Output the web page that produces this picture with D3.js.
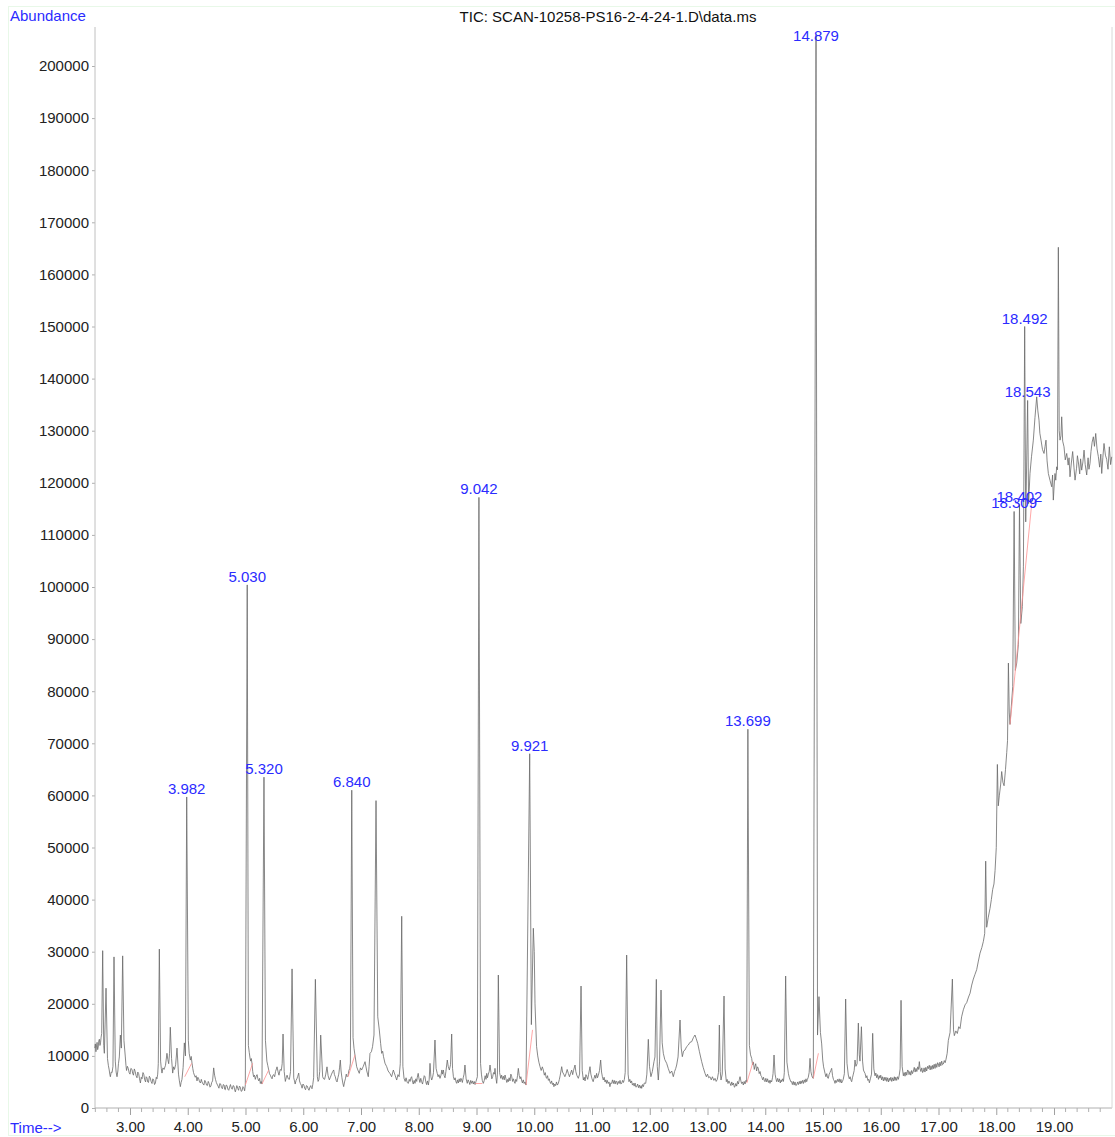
<!DOCTYPE html>
<html>
<head>
<meta charset="utf-8">
<script src="https://cdn.jsdelivr.net/npm/d3@7"></script>
<style>
    body { margin: 0; background: #ffffff; }
    svg { display: block; font-family: "Liberation Sans", Arial, sans-serif; }
</style>
</head>
<body>
<div id="chart-container"></div>
<script>
// chart text
const chartTitle = "TIC: SCAN-10258-PS16-2-4-24-1.D\\data.ms";
const yLabel = "Abundance";
const xLabel = "Time-->";

// tick values
const xTicks = [3, 4, 5, 6, 7, 8, 9, 10, 11, 12, 13, 14, 15, 16, 17, 18, 19];
const yTicks = [0, 10000, 20000, 30000, 40000, 50000, 60000, 70000, 80000, 90000, 100000,
    110000, 120000, 130000, 140000, 150000, 160000, 170000, 180000, 190000, 200000];

// TIC trace: [time (min), abundance]
const trace = [
    [2.39, 11500], [2.40, 12300], [2.41, 10800], [2.42, 11900], [2.43, 12600], [2.44, 11200], [2.45, 11700], [2.46, 12900],
    [2.47, 13200], [2.48, 12000], [2.49, 12500], [2.50, 13600], [2.51, 14300], [2.527, 30200], [2.545, 12000], [2.556, 10500],
    [2.585, 23000], [2.61, 9500], [2.625, 8200], [2.64, 7300], [2.65, 6500], [2.66, 6000], [2.675, 6900], [2.69, 6800],
    [2.705, 8000], [2.723, 29000], [2.745, 9000], [2.76, 6900], [2.775, 6000], [2.79, 7100], [2.80, 8500], [2.815, 9800],
    [2.833, 14000], [2.85, 11500], [2.873, 29200], [2.895, 13000], [2.919, 9800], [2.93, 8200], [2.94, 7200], [2.955, 8000],
    [2.97, 7600], [2.985, 6800], [3.00, 6500], [3.015, 7600], [3.035, 7400], [3.045, 6700], [3.06, 6300], [3.075, 7500],
    [3.09, 7000], [3.105, 6200], [3.121, 5800], [3.135, 6900], [3.15, 6600], [3.165, 5600], [3.18, 4800], [3.195, 5900],
    [3.208, 5600], [3.225, 6800], [3.24, 6400], [3.255, 5400], [3.27, 5000], [3.28, 6000], [3.294, 5800], [3.307, 5000],
    [3.32, 4900], [3.335, 6100], [3.35, 5800], [3.365, 5100], [3.381, 4700], [3.395, 5600], [3.41, 5400], [3.425, 4500],
    [3.44, 4800], [3.455, 5900], [3.467, 5600], [3.48, 6500], [3.49, 8500], [3.508, 30500], [3.53, 9000], [3.542, 7600],
    [3.554, 6700], [3.57, 7700], [3.59, 7400], [3.615, 8200], [3.64, 10500], [3.655, 9300], [3.67, 8500], [3.685, 10500],
    [3.698, 15500], [3.72, 9500], [3.739, 6700], [3.755, 7900], [3.77, 7400], [3.79, 8300], [3.814, 11500], [3.84, 6500],
    [3.855, 5200], [3.872, 4100], [3.885, 4900], [3.90, 5500], [3.92, 7800], [3.941, 12500], [3.96, 10000], [3.982, 59700],
    [4.01, 13000], [4.025, 10500], [4.045, 9200], [4.06, 9900], [4.074, 8600], [4.087, 7600], [4.10, 6800], [4.115, 6300],
    [4.13, 5900], [4.145, 6200], [4.16, 5200], [4.175, 5900], [4.19, 5600], [4.205, 5000], [4.22, 4800], [4.235, 5500],
    [4.247, 5000], [4.265, 4600], [4.28, 4400], [4.295, 5300], [4.31, 5000], [4.325, 4400], [4.34, 4300], [4.355, 5100],
    [4.37, 4700], [4.385, 4000], [4.40, 4200], [4.415, 4900], [4.43, 5200], [4.449, 7700], [4.465, 6300], [4.48, 5500],
    [4.495, 4900], [4.507, 4600], [4.525, 4200], [4.54, 3800], [4.555, 4700], [4.57, 4600], [4.585, 3900], [4.60, 3700],
    [4.615, 4500], [4.63, 4400], [4.64, 3600], [4.65, 3500], [4.665, 4400], [4.68, 4300], [4.695, 3600], [4.71, 3400],
    [4.725, 4000], [4.74, 4500], [4.755, 3800], [4.77, 3600], [4.785, 4300], [4.80, 4200], [4.812, 3500], [4.824, 3100],
    [4.838, 3700], [4.85, 4300], [4.865, 3800], [4.88, 3400], [4.895, 4200], [4.91, 4000], [4.925, 3200], [4.94, 3300],
    [4.955, 4100], [4.97, 3900], [4.985, 3300], [4.997, 4400], [5.030, 100400], [5.05, 12000], [5.066, 10600], [5.078, 9600],
    [5.09, 9000], [5.10, 9500], [5.112, 8600], [5.125, 7000], [5.14, 6000], [5.155, 6300], [5.17, 5500], [5.185, 6100],
    [5.20, 6400], [5.215, 5600], [5.23, 5200], [5.245, 5700], [5.257, 4700], [5.27, 5100], [5.285, 4600], [5.320, 63500],
    [5.345, 13000], [5.37, 9000], [5.385, 8200], [5.402, 7300], [5.415, 6600], [5.43, 6300], [5.445, 5900], [5.46, 5600],
    [5.475, 6300], [5.488, 6400], [5.505, 6000], [5.52, 7000], [5.535, 7500], [5.546, 7900], [5.565, 6900], [5.58, 6300],
    [5.60, 7400], [5.62, 7200], [5.635, 8500], [5.65, 14200], [5.67, 7000], [5.69, 5100], [5.705, 5800], [5.72, 6300],
    [5.74, 5600], [5.76, 5500], [5.78, 7000], [5.806, 26700], [5.835, 5800], [5.848, 5200], [5.86, 4600], [5.875, 5300],
    [5.89, 5600], [5.905, 6100], [5.921, 6700], [5.935, 5200], [5.95, 4700], [5.965, 4400], [5.98, 3800], [5.995, 4600],
    [6.01, 4400], [6.025, 3800], [6.04, 3500], [6.055, 4300], [6.07, 4200], [6.085, 3700], [6.10, 3400], [6.115, 4000],
    [6.13, 4300], [6.14, 3900], [6.152, 3700], [6.165, 4500], [6.18, 5800], [6.21, 24700], [6.244, 6000], [6.257, 5100],
    [6.27, 5400], [6.285, 7000], [6.302, 14000], [6.336, 6000], [6.352, 5600], [6.37, 5500], [6.39, 6500], [6.411, 7900],
    [6.43, 6200], [6.452, 5400], [6.47, 5900], [6.49, 6500], [6.51, 7000], [6.527, 7300], [6.54, 6400], [6.555, 6000],
    [6.57, 5300], [6.585, 5000], [6.60, 5800], [6.615, 6500], [6.628, 7700], [6.642, 9200], [6.655, 7100], [6.67, 5800],
    [6.685, 4800], [6.70, 4100], [6.715, 5000], [6.73, 5600], [6.745, 6500], [6.758, 6000], [6.775, 6200], [6.79, 7200],
    [6.805, 7600], [6.816, 8600], [6.840, 61000], [6.862, 13500], [6.879, 11450], [6.90, 9800], [6.925, 7930], [6.945, 7300],
    [6.97, 6650], [6.99, 7700], [7.01, 7290], [7.04, 8000], [7.07, 8890], [7.10, 7100], [7.126, 6010], [7.14, 8000],
    [7.156, 10490], [7.18, 10800], [7.20, 11770], [7.225, 14010], [7.26, 59000], [7.29, 17500], [7.317, 14970], [7.34, 12400],
    [7.358, 10490], [7.375, 10900], [7.39, 9850], [7.415, 8600], [7.445, 7930], [7.47, 7100], [7.50, 6650], [7.53, 6000],
    [7.56, 7290], [7.59, 6300], [7.618, 5370], [7.64, 6400], [7.66, 6010], [7.68, 8500], [7.705, 36800], [7.725, 8000],
    [7.745, 5690], [7.765, 5100], [7.78, 5800], [7.80, 4900], [7.82, 4730], [7.835, 5500], [7.85, 5100], [7.865, 5800],
    [7.877, 6010], [7.89, 5200], [7.905, 4600], [7.92, 5300], [7.935, 4730], [7.95, 5600], [7.965, 5100], [7.975, 5900],
    [7.99, 6650], [8.005, 5600], [8.02, 4900], [8.035, 5700], [8.05, 5050], [8.065, 4600], [8.08, 5400], [8.095, 6200],
    [8.108, 6010], [8.12, 5100], [8.135, 4500], [8.15, 5200], [8.166, 4410], [8.18, 5400], [8.195, 8570], [8.21, 6000],
    [8.224, 5370], [8.24, 5900], [8.255, 6800], [8.281, 13050], [8.30, 7600], [8.32, 6650], [8.335, 6000], [8.35, 6400],
    [8.368, 5690], [8.385, 6300], [8.40, 7300], [8.41, 6500], [8.426, 7290], [8.44, 6200], [8.455, 5800], [8.47, 7000],
    [8.494, 9210], [8.51, 8000], [8.53, 7290], [8.55, 8300], [8.57, 14200], [8.585, 7600], [8.60, 6010], [8.615, 5400],
    [8.63, 5800], [8.645, 5000], [8.657, 4730], [8.67, 5400], [8.685, 4800], [8.70, 5600], [8.715, 5000], [8.73, 5700],
    [8.743, 5370], [8.755, 4900], [8.77, 5800], [8.785, 6500], [8.80, 8250], [8.82, 5600], [8.84, 4730], [8.855, 5400],
    [8.87, 5000], [8.885, 4500], [8.90, 5300], [8.916, 4730], [8.93, 5200], [8.945, 4600], [8.96, 5100], [8.975, 4500],
    [8.99, 5050], [9.015, 6000], [9.042, 117200], [9.07, 8570], [9.085, 6500], [9.10, 5300], [9.118, 4730], [9.135, 5300],
    [9.15, 6200], [9.165, 5500], [9.177, 6650], [9.19, 5800], [9.205, 6500], [9.22, 7000], [9.234, 8250], [9.25, 6800],
    [9.265, 5600], [9.28, 6010], [9.295, 6800], [9.31, 6500], [9.32, 7610], [9.335, 5900], [9.35, 4730], [9.362, 6500],
    [9.378, 25520], [9.40, 6800], [9.42, 5690], [9.435, 6300], [9.45, 5500], [9.465, 6100], [9.48, 5400], [9.494, 6330],
    [9.51, 5600], [9.525, 4900], [9.54, 5500], [9.55, 5050], [9.565, 5800], [9.58, 5200], [9.595, 6500], [9.61, 6010],
    [9.625, 5100], [9.64, 5600], [9.655, 5000], [9.667, 4730], [9.68, 5500], [9.695, 5100], [9.71, 6200], [9.724, 7610],
    [9.74, 6200], [9.755, 5600], [9.768, 6000], [9.78, 5370], [9.795, 4800], [9.81, 5400], [9.825, 4700], [9.84, 5000],
    [9.857, 4410], [9.921, 68000], [9.95, 16000], [9.984, 34500], [10.00, 30000], [10.013, 20000], [10.04, 11800], [10.06, 10000],
    [10.08, 8800], [10.10, 7930], [10.12, 7200], [10.14, 7900], [10.157, 7290], [10.175, 6300], [10.19, 6800], [10.205, 5900],
    [10.215, 5690], [10.23, 6200], [10.245, 5300], [10.26, 5600], [10.27, 5050], [10.285, 4700], [10.30, 5200], [10.315, 4500],
    [10.33, 4800], [10.34, 4090], [10.355, 4600], [10.37, 4300], [10.385, 5000], [10.40, 4400], [10.417, 4730], [10.435, 5500],
    [10.45, 6300], [10.475, 7930], [10.49, 6900], [10.51, 6500], [10.53, 6010], [10.55, 6600], [10.57, 7400], [10.59, 6650],
    [10.61, 6000], [10.63, 6700], [10.648, 7290], [10.665, 6400], [10.68, 7200], [10.706, 8250], [10.72, 7000], [10.74, 6200],
    [10.763, 5690], [10.785, 6500], [10.81, 23410], [10.83, 7200], [10.85, 5370], [10.865, 5900], [10.88, 5200], [10.895, 6400],
    [10.91, 6010], [10.925, 5500], [10.94, 6400], [10.965, 7930], [10.98, 6500], [11.00, 5600], [11.02, 5050], [11.035, 5700],
    [11.05, 6300], [11.065, 5700], [11.08, 6650], [11.095, 5800], [11.11, 6300], [11.13, 7200], [11.15, 9210], [11.165, 6900],
    [11.18, 6000], [11.195, 5370], [11.21, 5900], [11.225, 5000], [11.24, 5400], [11.25, 4730], [11.265, 5300], [11.28, 4700],
    [11.295, 5000], [11.31, 4090], [11.325, 4800], [11.34, 4730], [11.355, 5400], [11.37, 4700], [11.385, 5300], [11.40, 4600],
    [11.415, 5200], [11.427, 5050], [11.44, 4500], [11.455, 5100], [11.47, 4700], [11.485, 5300], [11.50, 4600], [11.514, 4730],
    [11.53, 5300], [11.545, 4900], [11.56, 5500], [11.575, 6800], [11.60, 29360], [11.625, 6500], [11.64, 5050], [11.655, 5500],
    [11.67, 4800], [11.685, 5200], [11.70, 4400], [11.716, 4730], [11.73, 4200], [11.745, 4800], [11.76, 4000], [11.773, 4090],
    [11.79, 4600], [11.805, 3900], [11.82, 4400], [11.835, 3800], [11.85, 4300], [11.86, 3770], [11.875, 4500], [11.89, 4100],
    [11.905, 4800], [11.93, 4730], [11.95, 6500], [11.975, 13180], [11.995, 8000], [12.02, 6010], [12.045, 7000], [12.073, 8890],
    [12.09, 9800], [12.114, 24690], [12.13, 8000], [12.148, 5370], [12.17, 9000], [12.195, 22640], [12.215, 12500], [12.235, 10490],
    [12.26, 9300], [12.293, 8570], [12.32, 7600], [12.35, 6650], [12.38, 7100], [12.408, 6010], [12.43, 7000], [12.45, 7600],
    [12.466, 8250], [12.49, 9800], [12.524, 16890], [12.545, 11500], [12.564, 9850], [12.585, 10900], [12.61, 11130], [12.64, 11800],
    [12.668, 12090], [12.695, 12600], [12.726, 12730], [12.755, 13500], [12.783, 14010], [12.805, 13300], [12.83, 12410], [12.86, 10800],
    [12.899, 8890], [12.925, 7800], [12.957, 6650], [12.98, 6000], [13.00, 6500], [13.02, 5800], [13.043, 6010], [13.065, 5400],
    [13.085, 6000], [13.11, 5300], [13.13, 5690], [13.15, 5100], [13.17, 5500], [13.19, 6800], [13.205, 15930], [13.22, 7000],
    [13.234, 5370], [13.255, 6500], [13.286, 21490], [13.305, 7500], [13.326, 5050], [13.34, 5500], [13.355, 4700], [13.37, 5200],
    [13.39, 4730], [13.405, 4300], [13.42, 5000], [13.435, 4400], [13.45, 4800], [13.465, 4000], [13.476, 4090], [13.49, 4700],
    [13.505, 4200], [13.52, 5100], [13.535, 4600], [13.55, 5400], [13.563, 6010], [13.578, 5200], [13.59, 4700], [13.605, 5000],
    [13.62, 4410], [13.635, 5100], [13.65, 4600], [13.665, 5300], [13.678, 5050], [13.699, 72700], [13.725, 12000], [13.745, 10200],
    [13.765, 9530], [13.78, 8300], [13.795, 8800], [13.81, 7400], [13.82, 7930], [13.835, 8500], [13.85, 7100], [13.865, 7900],
    [13.88, 7610], [13.895, 6600], [13.91, 7000], [13.925, 6200], [13.938, 6010], [13.955, 5400], [13.97, 5900], [13.985, 5200],
    [13.996, 5050], [14.01, 5700], [14.025, 5000], [14.04, 5600], [14.055, 4900], [14.07, 5300], [14.082, 4730], [14.095, 5300],
    [14.11, 5000], [14.125, 5800], [14.135, 6600], [14.152, 10170], [14.17, 6500], [14.185, 5600], [14.198, 5050], [14.215, 5700],
    [14.23, 5000], [14.245, 5600], [14.26, 4800], [14.275, 5400], [14.284, 5050], [14.30, 5600], [14.315, 5100], [14.33, 6800],
    [14.353, 25330], [14.375, 8800], [14.40, 6650], [14.415, 5900], [14.43, 5400], [14.445, 5000], [14.457, 5050], [14.47, 4500],
    [14.485, 5100], [14.50, 4400], [14.515, 5000], [14.53, 4300], [14.544, 4410], [14.56, 5000], [14.575, 4500], [14.59, 5100],
    [14.605, 4600], [14.618, 5200], [14.63, 4730], [14.645, 5300], [14.66, 4700], [14.675, 5400], [14.69, 4900], [14.705, 5600],
    [14.717, 5050], [14.73, 5500], [14.745, 5900], [14.76, 6800], [14.775, 9530], [14.79, 7000], [14.805, 6200], [14.82, 5800],
    [14.832, 5690], [14.879, 206000], [14.905, 14000], [14.93, 21370], [14.955, 14500], [14.977, 12300], [14.995, 9200], [15.01, 7900],
    [15.035, 6650], [15.05, 6000], [15.065, 6600], [15.078, 5800], [15.092, 5690], [15.105, 6400], [15.12, 6800], [15.135, 7200],
    [15.15, 7610], [15.165, 6200], [15.18, 5500], [15.195, 5200], [15.208, 4730], [15.22, 5300], [15.235, 4900], [15.25, 5500],
    [15.265, 5050], [15.28, 5600], [15.295, 4900], [15.31, 5500], [15.322, 4800], [15.335, 5050], [15.35, 5500], [15.37, 6600],
    [15.392, 20920], [15.415, 8600], [15.438, 6330], [15.455, 5600], [15.47, 6000], [15.485, 5300], [15.496, 5050], [15.51, 5800],
    [15.525, 6500], [15.54, 7200], [15.554, 9210], [15.57, 8000], [15.59, 8500], [15.612, 16300], [15.628, 10200], [15.64, 9000],
    [15.665, 15600], [15.685, 9000], [15.70, 7290], [15.715, 6900], [15.728, 6640], [15.745, 5800], [15.76, 6200], [15.775, 5300],
    [15.79, 5500], [15.803, 4840], [15.82, 5600], [15.84, 6500], [15.86, 14330], [15.88, 7500], [15.90, 6180], [15.915, 6700],
    [15.93, 5800], [15.945, 6400], [15.96, 5500], [15.975, 6200], [15.987, 5740], [16.00, 6300], [16.015, 5400], [16.03, 6000],
    [16.045, 5200], [16.06, 5900], [16.074, 5280], [16.09, 5900], [16.105, 5100], [16.12, 5800], [16.135, 5000], [16.15, 5700],
    [16.16, 5280], [16.175, 5900], [16.19, 5100], [16.205, 5800], [16.22, 5200], [16.235, 6000], [16.247, 5280], [16.26, 5900],
    [16.275, 5300], [16.29, 6000], [16.305, 5500], [16.32, 6300], [16.335, 7500], [16.351, 20670], [16.37, 8000], [16.391, 6180],
    [16.405, 6800], [16.42, 6100], [16.435, 6900], [16.45, 6300], [16.465, 7300], [16.478, 7100], [16.49, 6400], [16.505, 7000],
    [16.52, 6300], [16.535, 7200], [16.55, 6600], [16.565, 7100], [16.58, 7800], [16.595, 6900], [16.61, 7600], [16.625, 7000],
    [16.64, 7900], [16.655, 7400], [16.668, 8900], [16.68, 7600], [16.695, 7000], [16.71, 7700], [16.725, 6800], [16.738, 7100],
    [16.75, 7700], [16.765, 6900], [16.78, 7800], [16.795, 7100], [16.81, 8000], [16.824, 7550], [16.84, 8200], [16.855, 7300],
    [16.87, 8100], [16.885, 7400], [16.90, 8200], [16.911, 7550], [16.925, 8400], [16.94, 7600], [16.955, 8500], [16.97, 7800],
    [16.985, 8700], [16.997, 8450], [17.01, 7900], [17.025, 8800], [17.04, 8100], [17.055, 9000], [17.07, 8300], [17.084, 8450],
    [17.10, 9100], [17.115, 8700], [17.13, 9360], [17.15, 10500], [17.17, 12970], [17.20, 14500], [17.24, 24740], [17.26, 15000],
    [17.274, 13890], [17.30, 14800], [17.326, 14300], [17.35, 15600], [17.373, 15240], [17.40, 17500], [17.43, 18860], [17.46, 19800],
    [17.488, 20220], [17.52, 21300], [17.546, 22030], [17.575, 23600], [17.603, 24740], [17.63, 25600], [17.661, 26560], [17.69, 28200],
    [17.719, 29730], [17.75, 30800], [17.777, 31990], [17.80, 33500], [17.817, 47380], [17.834, 34690], [17.86, 36500], [17.892, 38320],
    [17.915, 40000], [17.938, 41950], [17.96, 43000], [17.979, 45560], [18.00, 50000], [18.019, 65940], [18.035, 58000], [18.054, 60050],
    [18.075, 62000], [18.094, 64580], [18.115, 62500], [18.135, 61850], [18.16, 65000], [18.181, 68200], [18.195, 70500], [18.21, 85400],
    [18.225, 76000], [18.238, 73630], [18.26, 77000], [18.285, 80870], [18.309, 114500], [18.33, 84000], [18.354, 85400], [18.383, 89000],
    [18.402, 115800], [18.425, 93000], [18.452, 96260], [18.47, 104000], [18.492, 150000], [18.51, 112500], [18.543, 135800], [18.56, 116000],
    [18.584, 121800], [18.61, 125000], [18.642, 128190], [18.67, 132500], [18.70, 136500], [18.72, 133800], [18.74, 132030], [18.755, 129500],
    [18.775, 128190], [18.80, 126400], [18.827, 125630], [18.845, 127000], [18.861, 128190], [18.88, 124200], [18.902, 121790], [18.93, 120500],
    [18.96, 119230], [18.975, 121500], [18.988, 116680], [19.00, 119000], [19.017, 121790], [19.03, 120500], [19.046, 123070], [19.06, 122500],
    [19.075, 165200], [19.09, 130000], [19.104, 128190], [19.12, 129000], [19.133, 132670], [19.15, 128000], [19.173, 126910], [19.195, 124400],
    [19.22, 125630], [19.245, 123400], [19.26, 124800], [19.277, 121150], [19.30, 123800], [19.323, 126000], [19.345, 123000], [19.364, 120510],
    [19.39, 122800], [19.405, 125200], [19.421, 124000], [19.445, 121700], [19.46, 124600], [19.479, 122430], [19.50, 124000], [19.52, 126270],
    [19.54, 123500], [19.566, 121500], [19.59, 124800], [19.605, 122600], [19.623, 123710], [19.64, 126000], [19.66, 127800], [19.681, 128830],
    [19.70, 127000], [19.722, 129470], [19.745, 126500], [19.768, 125000], [19.79, 123000], [19.81, 125500], [19.826, 121790], [19.845, 124800],
    [19.866, 127550], [19.89, 125300], [19.912, 124500], [19.935, 122600], [19.958, 126910], [19.98, 123500], [19.999, 124990]
];

// labelled peaks (retention time as printed)
const peakLabels = ["3.982", "5.030", "5.320", "6.840", "9.042", "9.921", "13.699", "14.879",
    "18.309", "18.402", "18.492", "18.543"];

// integration baselines (time, abundance) at start and end
const integStartTime = [3.947, 4.997, 5.285, 6.775, 8.98, 9.857, 13.68, 14.832, 18.238];
const integStartAbund = [6000, 4400, 4600, 5950, 4700, 4400, 4800, 5700, 73600];
const integEndTime = [4.068, 5.124, 5.402, 6.896, 9.10, 9.97, 13.79, 14.92, 18.62];
const integEndAbund = [8600, 8600, 7300, 10200, 4700, 15000, 8900, 10500, 116700];


function drawChromatogram() {
    const width = 1115;
    const height = 1137;
    const plot = {left: 95, right: 1112, top: 27, bottom: 1108};

    const svg = d3.select("#chart-container")
        .append("svg")
        .attr("width", width)
        .attr("height", height);

    // faint page frame
    svg.append("rect")
        .attr("x", 8.5).attr("y", 6.5)
        .attr("width", 1112).attr("height", 1129)
        .attr("fill", "none")
        .attr("stroke", "#e8f8e8");

    const x = d3.scaleLinear()
        .domain([2.394, 20.004])
        .range([plot.left, plot.right]);

    const y = d3.scaleLinear()
        .domain([0, 200000])
        .range([plot.bottom, 66]);

    // y axis
    const yAxis = d3.axisLeft(y)
        .tickValues(yTicks)
        .tickFormat(d => String(d))
        .tickSize(3)
        .tickPadding(3);

    const gy = svg.append("g")
        .attr("transform", `translate(${plot.left},0)`)
        .call(yAxis);
    gy.select(".domain").remove();
    gy.selectAll(".tick line").attr("stroke", "#b0b0b0");
    gy.selectAll(".tick text")
        .attr("fill", "#222")
        .style("font-size", "15px")
        .style("font-family", "Liberation Sans, Arial, sans-serif");

    // x axis
    const xAxis = d3.axisBottom(x)
        .tickValues(xTicks)
        .tickFormat(d => d.toFixed(2))
        .tickSize(7)
        .tickPadding(6);

    const gx = svg.append("g")
        .attr("transform", `translate(0,${plot.bottom})`)
        .call(xAxis);
    gx.select(".domain").remove();
    gx.selectAll(".tick line").attr("stroke", "#a0a0a0");
    gx.selectAll(".tick text")
        .attr("fill", "#222")
        .style("font-size", "15px")
        .style("font-family", "Liberation Sans, Arial, sans-serif");

    // minor x ticks every 0.2 min
    const minor = d3.range(2.4, 20.0, 0.2).filter(t => Math.abs(t - Math.round(t)) > 0.05);
    svg.append("g")
        .selectAll("line")
        .data(minor)
        .enter()
        .append("line")
        .attr("x1", d => x(d)).attr("x2", d => x(d))
        .attr("y1", plot.bottom).attr("y2", plot.bottom + 4)
        .attr("stroke", "#b0b0b0");

    // axis frame lines
    svg.append("line")
        .attr("x1", plot.left).attr("x2", plot.left)
        .attr("y1", plot.top).attr("y2", plot.bottom)
        .attr("stroke", "#c0c0c0");
    svg.append("line")
        .attr("x1", plot.left).attr("x2", plot.right)
        .attr("y1", plot.bottom).attr("y2", plot.bottom)
        .attr("stroke", "#b0b0b0");
    svg.append("line")
        .attr("x1", plot.right).attr("x2", plot.right)
        .attr("y1", plot.top).attr("y2", plot.bottom)
        .attr("stroke", "#d8d8d8");

    // trace
    const line = d3.line()
        .x(d => x(d[0]))
        .y(d => y(d[1]));

    svg.append("path")
        .datum(trace)
        .attr("d", line)
        .attr("fill", "none")
        .attr("stroke", "#6a6a6a")
        .attr("stroke-width", 0.8)
        .attr("stroke-linejoin", "round");

    // integration baselines (red)
    svg.append("g")
        .selectAll("line")
        .data(integStartTime)
        .enter()
        .append("line")
        .attr("x1", (d, i) => x(d))
        .attr("y1", (d, i) => y(integStartAbund[i]))
        .attr("x2", (d, i) => x(integEndTime[i]))
        .attr("y2", (d, i) => y(integEndAbund[i]))
        .attr("stroke", "#ff9090")
        .attr("stroke-width", 0.8);

    // peak labels
    svg.append("g")
        .selectAll("text")
        .data(peakLabels)
        .enter()
        .append("text")
        .attr("text-anchor", "middle")
        .attr("x", d => x(+d))
        .attr("y", d => {
            // apex of the trace around the labelled time
            const t = +d;
            const apex = d3.max(trace.filter(p => Math.abs(p[0] - t) < 0.006), p => p[1]);
            return Math.max(y(apex) - 3, 41);
        })
        .style("font-size", "15px")
        .style("fill", "#2b2bff")
        .text(d => d);

    // titles
    svg.append("text")
        .attr("x", 10).attr("y", 21)
        .style("font-size", "15px")
        .style("fill", "#2b2bff")
        .text(yLabel);

    svg.append("text")
        .attr("x", 10).attr("y", 1133)
        .style("font-size", "15px")
        .style("fill", "#2b2bff")
        .text(xLabel);

    svg.append("text")
        .attr("x", 608).attr("y", 22)
        .attr("text-anchor", "middle")
        .style("font-size", "15px")
        .style("fill", "#111")
        .text(chartTitle);
}

drawChromatogram();
</script>
</body>
</html>
